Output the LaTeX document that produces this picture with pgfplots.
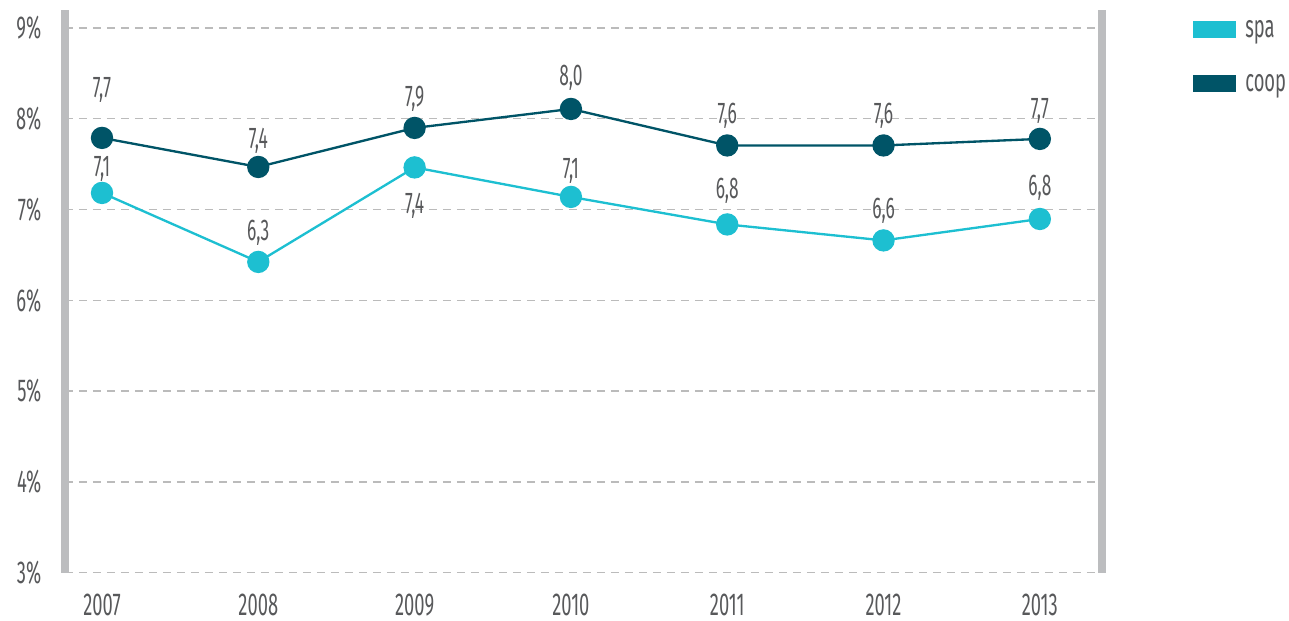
\documentclass[border=0pt]{standalone}
\usepackage{pgfplots}
\pgfplotsset{compat=1.18}
\usepackage{fontspec}
\setmainfont{Fira Sans}[FakeStretch=0.58]

\definecolor{spa}{HTML}{1DBFD1}
\definecolor{coop}{HTML}{005467}
\definecolor{axgray}{HTML}{BCBDBF}
\definecolor{gridgray}{HTML}{BBBBBB}
\definecolor{txt}{HTML}{58595B}

\pgfplotstableread{
x y
0 7.183
1 6.423
2 7.464
3 7.139
4 6.836
5 6.660
6 6.896
}\spadata

\pgfplotstableread{
x y
0 7.789
1 7.469
2 7.899
3 8.108
4 7.706
5 7.706
6 7.778
}\coopdata

% label positions (digit centres)
\pgfplotstableread{
x y lab
0 7.458 7,1
1 6.753 6,3
2 7.051 7,4
3 7.436 7,1
4 7.216 6,8
5 6.996 6,6
6 7.249 6,8
}\spalabels

\pgfplotstableread{
x y lab
0 8.328 7,7
1 7.767 7,4
2 8.229 7,9
3 8.460 8,0
4 8.042 7,6
5 8.042 7,6
6 8.097 7,7
}\cooplabels

\begin{document}
\begin{tikzpicture}
\begin{axis}[
    x=46.9pt, y=27.24pt,
    xmin=-0.237, xmax=6.40,
    ymin=3, ymax=9.2,
    separate axis lines,
    x axis line style={draw=none},
    y axis line style={draw=axgray, line width=2.4pt},
    xtick={0,...,6},
    xticklabels={2007,2008,2009,2010,2011,2012,2013},
    ytick={3,...,9},
    yticklabels={3\%,4\%,5\%,6\%,7\%,8\%,9\%},
    major tick length=0pt,
    tick pos=left,
    ymajorgrids,
    grid style={gridgray, dash pattern=on 2.4pt off 1.8pt, line width=0.45pt},
    tick label style={font=\fontsize{9.5}{11}\selectfont, text=txt, inner sep=0pt},
    yticklabel style={anchor=east, xshift=-6.9pt},
    xticklabel style={anchor=north, yshift=-6.3pt},
    /pgf/number format/assume math mode=true,
    clip=false,
    legend image code/.code={\fill[#1] (0pt,0.35pt) rectangle (12.3pt,4.65pt);},
    legend style={at={(axis cs:6.98,9.074)}, anchor=north west, draw=none, fill=none,
        inner sep=0pt, outer sep=0pt, row sep=9.7pt, column sep=2.7pt,
        font=\fontsize{9.5}{11}\selectfont, text=txt,
        nodes={inner sep=0pt, anchor=base west, text height=5pt, text depth=1.5pt}},
    legend cell align=left,
]
\path (axis cs:-0.6526,2.469) rectangle (axis cs:7.594,9.308);

\addplot[spa, line width=0.7pt, mark=*, mark size=3pt, mark options={fill=spa, draw=none}]
    table[x=x, y=y] {\spadata};
\addlegendentry{spa}
\addplot[coop, line width=0.7pt, mark=*, mark size=3pt, mark options={fill=coop, draw=none}]
    table[x=x, y=y] {\coopdata};
\addlegendentry{coop}

\addplot[draw=none, mark=none, forget plot, point meta=explicit symbolic,
    nodes near coords,
    every node near coord/.style={anchor=base, yshift=-2.7pt, inner sep=0pt,
        font=\fontsize{9}{11}\selectfont, text=txt}]
    table[x=x, y=y, meta=lab] {\spalabels};
\addplot[draw=none, mark=none, forget plot, point meta=explicit symbolic,
    nodes near coords,
    every node near coord/.style={anchor=base, yshift=-2.7pt, inner sep=0pt,
        font=\fontsize{9}{11}\selectfont, text=txt}]
    table[x=x, y=y, meta=lab] {\cooplabels};
\end{axis}
\end{tikzpicture}
\end{document}
